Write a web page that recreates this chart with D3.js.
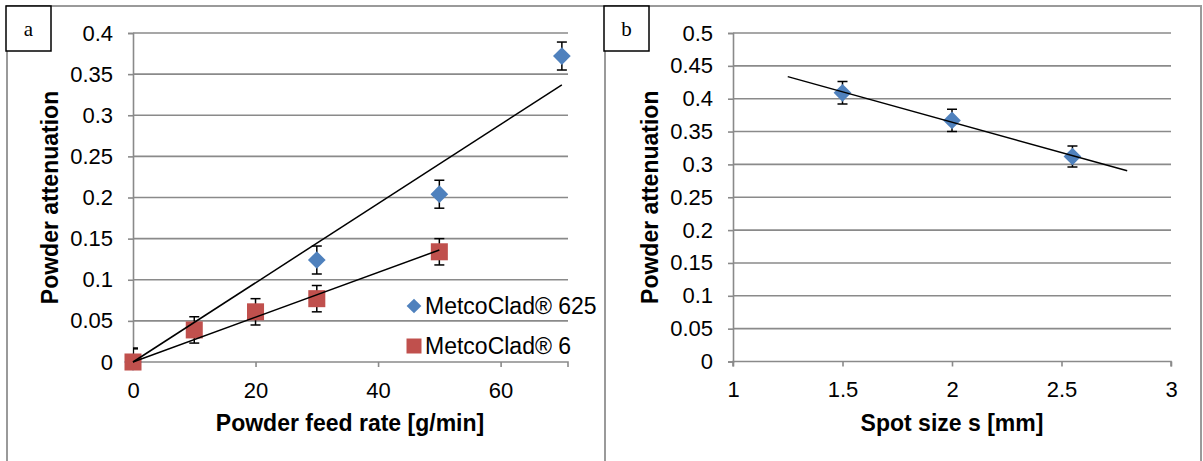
<!DOCTYPE html>
<html>
<head>
<meta charset="utf-8">
<script src="https://cdn.jsdelivr.net/npm/d3@7"></script>
<style>
  body { margin: 0; background: #fff; }
  svg { display: block; font-family: "Liberation Sans", Arial, sans-serif; }
</style>
</head>
<body>
<svg id="chart" width="1203" height="461"></svg>
<script>
// panel a data: powder feed rate vs attenuation
const feedRate625 = [0, 30, 50, 70];
const atten625 = [0, 0.124, 0.204, 0.372];
const err625 = [0.017, 0.017, 0.017, 0.017];
const feedRate6 = [0, 10, 20, 30, 50];
const atten6 = [0, 0.039, 0.061, 0.077, 0.134];
const err6 = [0.016, 0.016, 0.016, 0.016, 0.016];
const seriesNames = ["MetcoClad® 625", "MetcoClad® 6"];
const xTicksA = [0, 20, 40, 60];
const yTicksA = [0, 0.05, 0.1, 0.15, 0.2, 0.25, 0.3, 0.35, 0.4];

// panel b data: spot size vs attenuation
const spotSize = [1.5, 2.0, 2.55];
const attenSpot = [0.409, 0.367, 0.312];
const errSpot = [0.017, 0.017, 0.016];
const xTicksB = [1, 1.5, 2, 2.5, 3];
const yTicksB = [0, 0.05, 0.1, 0.15, 0.2, 0.25, 0.3, 0.35, 0.4, 0.45, 0.5];

const blue = "#4f81bd", red = "#c0504d", grid = "#8a8a8a";
const svg = d3.select("#chart");
const fmt = d => String(+d.toFixed(2));

// least squares through origin (Excel trendline with intercept = 0)
function fitOrigin(xs, ys) {
  const sxy = d3.sum(xs, (x, i) => x * ys[i]);
  const sxx = d3.sum(xs, x => x * x);
  return { slope: sxy / sxx, icpt: 0 };
}
// ordinary least squares
function fitLinear(xs, ys) {
  const mx = d3.mean(xs), my = d3.mean(ys);
  const sxy = d3.sum(xs, (x, i) => (x - mx) * (ys[i] - my));
  const sxx = d3.sum(xs, x => (x - mx) * (x - mx));
  const slope = sxy / sxx;
  return { slope, icpt: my - slope * mx };
}

function panel(o) {
  const g = svg.append("g");
  // frame
  g.append("rect")
    .attr("x", o.frame[0]).attr("y", 6)
    .attr("width", o.frame[1] - o.frame[0]).attr("height", 470)
    .attr("fill", "none").attr("stroke", "#9a9a9a").attr("stroke-width", 2);

  const x = d3.scaleLinear().domain(o.xDomain).range(o.xRange);
  const y = d3.scaleLinear().domain(o.yDomain).range([o.y0, 33]);

  // gridlines
  g.selectAll(".grid")
    .data(o.yTicks.filter(d => d > 0))
    .join("line")
      .attr("x1", x.range()[0]).attr("x2", x.range()[1])
      .attr("y1", d => y(d)).attr("y2", d => y(d))
      .attr("stroke", grid).attr("stroke-width", 1.6);

  // axes
  const ya = g.append("g")
    .attr("transform", `translate(${x.range()[0]},0)`)
    .call(d3.axisLeft(y).tickValues(o.yTicks).tickFormat(fmt).tickSize(5).tickPadding(15));
  const xa = g.append("g")
    .attr("transform", `translate(0,${y(0)})`)
    .call(d3.axisBottom(x).tickValues(o.xTicks).tickFormat(fmt).tickSize(5).tickPadding(15));
  [ya, xa].forEach(a => {
    a.select(".domain").attr("stroke", grid).attr("stroke-width", 1.6);
    a.selectAll(".tick line").attr("stroke", grid).attr("stroke-width", 1.6);
    a.selectAll(".tick text").attr("fill", "#000").style("font-size", "22px");
  });
  xa.select(".domain").attr("d", `M${x.range()[0]},5V0H${x.range()[1]}V5`);

  // axis titles
  g.append("text")
    .attr("transform", `translate(${o.yTitleX},${(y.range()[0] + y.range()[1]) / 2}) rotate(-90)`)
    .attr("text-anchor", "middle")
    .style("font-size", "23px").style("font-weight", "bold")
    .text("Powder attenuation");
  g.append("text")
    .attr("x", o.xTitleX).attr("y", 431)
    .attr("text-anchor", "middle")
    .style("font-size", "23px").style("font-weight", "bold")
    .text(o.xTitle);

  // panel letter box
  g.append("rect")
    .attr("x", o.frame[0] - 1).attr("y", 6).attr("width", 45).attr("height", 45)
    .attr("fill", "#fff").attr("stroke", "#000").attr("stroke-width", 1.5);
  g.append("text")
    .attr("x", o.frame[0] + 21.5).attr("y", 36)
    .attr("text-anchor", "middle")
    .style("font-family", "'Liberation Serif', 'Times New Roman', serif")
    .style("font-size", "21px")
    .text(o.letter);

  const clipId = "clip" + o.letter;
  g.append("clipPath").attr("id", clipId)
    .append("rect")
      .attr("x", x.range()[0]).attr("y", y.range()[1])
      .attr("width", x.range()[1] - x.range()[0])
      .attr("height", y.range()[0] - y.range()[1]);

  return { g, x, y, clipId };
}

function drawSeries(p, xs, ys, es, color, shape, size) {
  const pts = xs.map((v, i) => ({ x: v, y: ys[i], e: es[i] }));
  const eb = p.g.append("g").attr("clip-path", `url(#${p.clipId})`)
    .attr("stroke", "#000").attr("stroke-width", 1.5);
  pts.forEach(d => {
    const cx = p.x(d.x), top = p.y(d.y + d.e), bot = p.y(d.y - d.e);
    eb.append("line").attr("x1", cx).attr("x2", cx).attr("y1", top).attr("y2", bot);
    eb.append("line").attr("x1", cx - 5).attr("x2", cx + 5).attr("y1", top).attr("y2", top);
    eb.append("line").attr("x1", cx - 5).attr("x2", cx + 5).attr("y1", bot).attr("y2", bot);
  });
  p.g.append("g").selectAll("path")
    .data(pts)
    .join("path")
      .attr("transform", d => `translate(${p.x(d.x)},${p.y(d.y)})`)
      .attr("d", d3.symbol(shape, size))
      .attr("fill", color);
}

function drawTrend(p, fit, x0, x1) {
  const line = d3.line().x(d => p.x(d)).y(d => p.y(fit.icpt + fit.slope * d));
  p.g.append("path")
    .attr("d", line([x0, x1]))
    .attr("fill", "none").attr("stroke", "#000").attr("stroke-width", 1.5);
}

// ---- panel a ----
const pa = panel({
  letter: "a", frame: [7, 605],
  xDomain: [0, 71], xRange: [133, 568],
  yDomain: [0, 0.4], y0: 362,
  xTicks: xTicksA, yTicks: yTicksA,
  yTitleX: 58, xTitleX: 350, xTitle: "Powder feed rate [g/min]"
});
drawSeries(pa, feedRate625, atten625, err625, blue, d3.symbolDiamond2, 200);
drawSeries(pa, feedRate6, atten6, err6, red, d3.symbolSquare, 290);
drawTrend(pa, fitOrigin(feedRate625, atten625), 0, d3.max(feedRate625));
drawTrend(pa, fitOrigin(feedRate6, atten6), 0, d3.max(feedRate6));

// legend
const leg = pa.g.append("g").attr("transform", "translate(414,306)");
seriesNames.forEach((name, i) => {
  const it = leg.append("g").attr("transform", `translate(0,${i * 40})`);
  it.append("path")
    .attr("d", d3.symbol(i === 0 ? d3.symbolDiamond2 : d3.symbolSquare, i === 0 ? 138 : 225))
    .attr("fill", i === 0 ? blue : red);
  it.append("text").attr("x", 11).attr("y", 8)
    .style("font-size", "23px").text(name);
});

// ---- panel b ----
const pb = panel({
  letter: "b", frame: [605, 1201],
  xDomain: [1, 3], xRange: [733, 1171],
  yDomain: [0, 0.5], y0: 361.5,
  xTicks: xTicksB, yTicks: yTicksB,
  yTitleX: 658, xTitleX: 952, xTitle: "Spot size s [mm]"
});
drawSeries(pb, spotSize, attenSpot, errSpot, blue, d3.symbolDiamond2, 200);
drawTrend(pb, fitLinear(spotSize, attenSpot), d3.min(spotSize) - 0.25, d3.max(spotSize) + 0.25);
</script>
</body>
</html>
